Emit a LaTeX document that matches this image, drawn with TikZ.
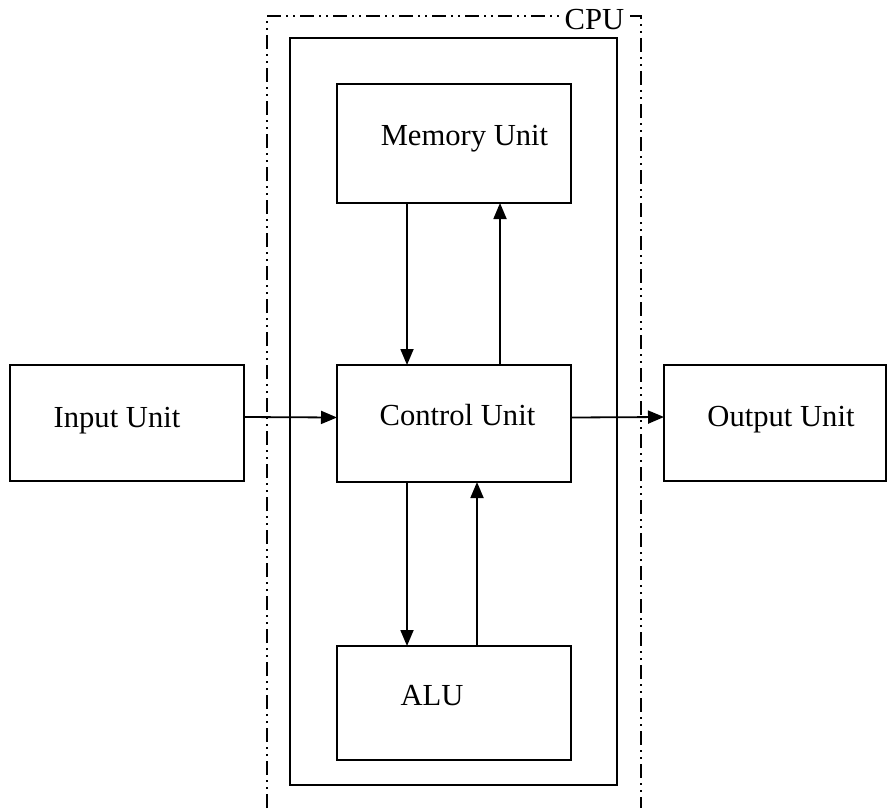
\documentclass[tikz,border=0pt]{standalone}
\usepackage{fontspec}
\setmainfont{Liberation Serif}
\usetikzlibrary{arrows.meta}

\begin{document}
\begin{tikzpicture}[x=0.5pt, y=-0.5pt, line width=0.9pt,
  >={Triangle[length=8pt,width=6.5pt]},
  every node/.style={font=\fontsize{15.3}{18}\selectfont},
  unitbox/.style={draw, rectangle, minimum width=117pt, inner sep=0pt, outer sep=0pt}]
  \useasboundingbox (0,0) rectangle (887,808);

  % CPU frame, open at the bottom
  \draw[line width=1pt, dash pattern=on 7pt off 2.5pt on 1pt off 2.5pt on 1pt off 2.5pt]
    (267,808) -- (267,16) -- (641,16) -- (641,808);
  \node[fill=white, inner sep=0.5pt, anchor=base] (cpulbl) at (594.5,30) {CPU};
  \node[draw, minimum width=163.5pt, minimum height=373.5pt, outer sep=0pt] (cpubox) at (453.5,411.5) {};

  % units
  \node[unitbox, minimum height=59.5pt] (mem) at (454,143.5) {};
  \node[unitbox, minimum height=58.5pt] (ctrl) at (454,423.5) {};
  \node[unitbox, minimum height=57pt] (alu) at (454,703) {};
  \node[unitbox, minimum height=58pt] (inp) at (127,423) {};
  \node[unitbox, minimum width=111pt, minimum height=58pt] (outp) at (775,423) {};

  \node[anchor=base] (memtxt) at (464.5,145) {Memory Unit};
  \node[anchor=base] (ctrltxt) at (457.5,425) {Control Unit};
  \node[anchor=base] (alutxt) at (432,705) {ALU};
  \node[anchor=base] (inptxt) at (117,427) {Input Unit};
  \node[anchor=base] (outptxt) at (781,426) {Output Unit};

  % data flow
  \draw[->] ([yshift=3pt]inp.east) -- ([yshift=3pt]ctrl.west);
  \draw[->] ([yshift=3pt]ctrl.east) -- ([yshift=3pt]outp.west);
  \draw[->] ([xshift=35pt]mem.south west) -- ([xshift=35pt]ctrl.north west);
  \draw[->] ([xshift=81.5pt]ctrl.north west) -- ([xshift=81.5pt]mem.south west);
  \draw[->] ([xshift=35pt]ctrl.south west) -- ([xshift=35pt]alu.north west);
  \draw[->] ([xshift=70pt]alu.north west) -- ([xshift=70pt]ctrl.south west);
\end{tikzpicture}
\end{document}
